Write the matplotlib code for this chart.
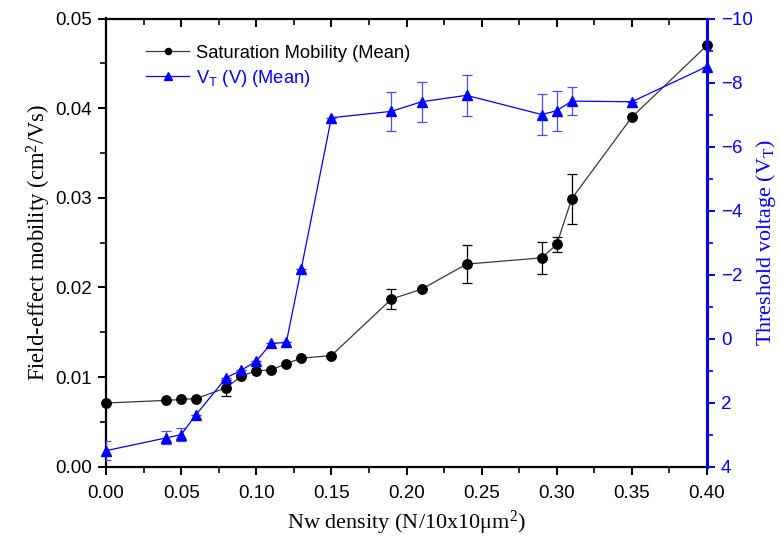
import matplotlib
matplotlib.use("Agg")
import matplotlib.pyplot as plt
from matplotlib.ticker import MultipleLocator, FormatStrFormatter

# Nanowire density (N / 10x10 um^2)
density = [0.00, 0.04, 0.05, 0.06, 0.08, 0.09, 0.10, 0.11, 0.12, 0.13,
           0.15, 0.19, 0.21, 0.24, 0.29, 0.30, 0.31, 0.35, 0.40]

# Saturation mobility (cm^2/Vs), mean and standard deviation
mobility = [0.0071, 0.0074, 0.0075, 0.0076, 0.0088, 0.0101, 0.0107, 0.0108,
            0.0115, 0.0121, 0.0124, 0.0187, 0.0198, 0.0226, 0.0233, 0.0248,
            0.0299, 0.0390, 0.0470]
mobility_err = [0, 0, 0, 0, 0.0009, 0, 0, 0, 0, 0,
                0, 0.0011, 0, 0.0021, 0.0018, 0.0008, 0.0028, 0, 0]

# Threshold voltage (V), mean and standard deviation
vt = [3.5, 3.1, 3.0, 2.37, 1.22, 0.99, 0.70, 0.15, 0.12, -2.19,
      -6.9, -7.1, -7.4, -7.6, -7.0, -7.12, -7.42, -7.4, -8.5]
vt_err = [0.3, 0.2, 0.2, 0, 0, 0, 0, 0, 0, 0,
          0, 0.6, 0.62, 0.63, 0.64, 0.63, 0.44, 0, 0]

BLUE = "#0000ff"
SANS = "Liberation Sans"
SERIF = "Liberation Serif"

plt.rcParams["font.family"] = SANS
plt.rcParams["mathtext.fontset"] = "custom"
plt.rcParams["mathtext.rm"] = SANS

fig = plt.figure(figsize=(7.8, 5.43), dpi=100)
ax = fig.add_axes([106 / 780, (543 - 466.7) / 543, (707 - 106) / 780, (466.7 - 18.5) / 543])
ax2 = ax.twinx()

# Mobility series
ax.errorbar(density, mobility, yerr=mobility_err, fmt="none", ecolor="black",
            elinewidth=0.9, capsize=3.5, capthick=0.9, zorder=3)
l1, = ax.plot(density, mobility, color="#383838", lw=0.9, marker="o",
              markersize=6.8, markerfacecolor="black", markeredgecolor="black",
              zorder=4, clip_on=False, label="Saturation Mobility (Mean)")

# Threshold voltage series
ax2.errorbar(density, vt, yerr=vt_err, fmt="none", ecolor="#4a4aff",
             elinewidth=0.9, capsize=3.5, capthick=0.9, zorder=3)
l2, = ax2.plot(density, vt, color=BLUE, lw=0.9, marker="^", markersize=7.8,
               markerfacecolor=BLUE, markeredgecolor=BLUE, zorder=4,
               clip_on=False, label=r"$\mathregular{V_T}$ (V) (Mean)")

ax.set_xlim(0, 0.40)
ax.set_ylim(0, 0.05)
ax2.set_ylim(4, -10)

ax.xaxis.set_major_locator(MultipleLocator(0.05))
ax.xaxis.set_minor_locator(MultipleLocator(0.025))
ax.xaxis.set_major_formatter(FormatStrFormatter("%.2f"))
ax.yaxis.set_major_locator(MultipleLocator(0.01))
ax.yaxis.set_minor_locator(MultipleLocator(0.005))
ax.yaxis.set_major_formatter(FormatStrFormatter("%.2f"))
ax2.yaxis.set_major_locator(MultipleLocator(2))
ax2.yaxis.set_minor_locator(MultipleLocator(1))

for sp in ["left", "bottom", "top"]:
    ax.spines[sp].set_linewidth(1.6)
ax2.spines["right"].set_color(BLUE)
ax2.spines["right"].set_linewidth(2.2)
for sp in ["left", "bottom", "top"]:
    ax2.spines[sp].set_visible(False)

ax.tick_params(axis="both", which="major", direction="out", length=6, width=1.4,
               labelsize=13.5, pad=4)
ax.tick_params(axis="both", which="minor", direction="out", length=4, width=1.2)
ax.tick_params(axis="x", which="both", top=True, labeltop=False)
ax.tick_params(axis="x", which="major", pad=7)
# ticks on the top spine point into the plot
for t in ax.xaxis.get_major_ticks() + ax.xaxis.get_minor_ticks():
    t.tick2line.set_marker(3)
ax2.tick_params(axis="y", which="major", direction="out", length=6, width=1.4,
                colors=BLUE, labelsize=13.5, pad=4)
ax2.tick_params(axis="y", which="minor", direction="out", length=4, width=1.2, colors=BLUE)

ax.set_xlabel(r"Nw density (N/10x10μm$\mathregular{^2}$)", fontfamily=SERIF,
              fontsize=16, labelpad=5)
ax.set_ylabel(r"Field-effect mobility (cm$\mathregular{^2}$/Vs)", fontfamily=SERIF,
              fontsize=16.3, labelpad=2)
ax2.set_ylabel(r"Threshold voltage (V$\mathregular{_T}$)", fontfamily=SERIF,
               fontsize=15.8, color=BLUE, rotation=90, labelpad=1)

leg = ax.legend(handles=[l1, l2], loc="upper left", bbox_to_anchor=(0.055, 0.958),
                frameon=False, fontsize=13.2, handlelength=2.35, handletextpad=0.38,
                labelspacing=0.32, borderaxespad=0, markerscale=0.65)
leg.get_texts()[1].set_color(BLUE)

fig.savefig("out.png", dpi=100)
